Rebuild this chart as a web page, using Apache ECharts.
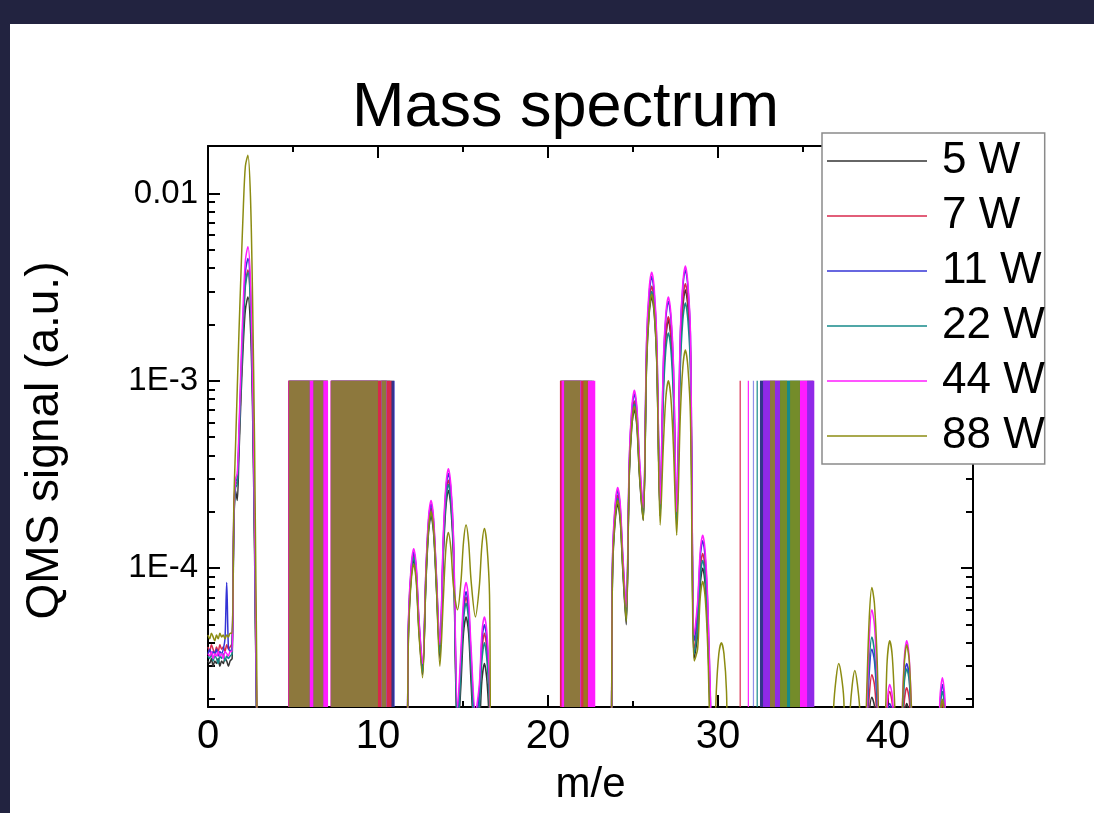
<!DOCTYPE html>
<html>
<head>
<meta charset="utf-8">
<script src="https://cdn.jsdelivr.net/npm/echarts@6/dist/echarts.min.js"></script>
<style>
  html, body { margin: 0; padding: 0; width: 1094px; height: 813px; background: #222340; overflow: hidden; }
  #chart { position: absolute; left: 10px; top: 24px; width: 1084px; height: 789px; background: #fff; }
</style>
</head>
<body>
<div id="chart"></div>
<script>
// Reading below the detection floor of the QMS
const U = 5e-6;

// m/e sample positions
const mz = [
  0, 0.1, 0.2, 0.3, 0.4, 0.5, 0.6, 0.7, 0.8, 0.9, 1.0, 1.1, 1.2, 1.3, 1.42, 1.52, 1.62, 1.72, 1.82, 1.95, 2.08, 2.2, 2.35, 2.5, 2.62, 2.74, 2.86, 3.0,
  11.55, 11.8, 11.95, 12.1, 12.25, 12.4, 12.62, 12.82, 12.97, 13.12, 13.27, 13.42, 13.64, 13.84, 13.99, 14.14, 14.29, 14.44, 14.68, 14.88, 15.03, 15.18, 15.33, 15.48, 15.73, 15.96, 16.11, 16.26, 16.41, 16.56, 16.72,
  23.6, 23.8, 23.95, 24.1, 24.25, 24.4, 24.6, 24.78, 24.93, 25.08, 25.23, 25.38, 25.6, 25.8, 25.95, 26.1, 26.25, 26.4, 26.6, 26.78, 26.93, 27.08, 27.23, 27.38, 27.57, 27.78, 27.93, 28.08, 28.23, 28.38, 28.6, 28.8, 28.95, 29.1, 29.25, 29.4, 29.58, 29.75, 29.9, 30.05, 30.2, 30.35, 30.5, 30.68,
  36.6, 36.8, 36.95, 37.1, 37.25, 37.4, 37.58, 37.75, 37.9, 38.05, 38.2, 38.35, 38.55, 38.75, 38.9, 39.05, 39.2, 39.35, 39.55, 39.8, 39.95, 40.1, 40.25, 40.4, 40.6, 40.8, 40.95, 41.1, 41.25, 41.4, 41.6, 42.9, 43.05, 43.2, 43.35, 43.5, 45
];

// QMS signal (a.u.) per discharge power, one value per m/e position
const w5 = [
  3.2e-5, 3.1e-5, 3.3e-5, 3.0e-5, 3.2e-5, 3.1e-5, 3.3e-5, 3.0e-5, 3.2e-5, 3.1e-5, 3.3e-5, 3.2e-5, 3.0e-5, 3.2e-5,
  3.3e-5, 1.6e-4, 2.6e-4, 2.3e-4, 4.0e-4, 8.5e-4, 1.6e-3, 2.4e-3, 2.8e-3, 1.9e-3, 7.0e-4, 1.2e-4, 1.5e-5, U,
  U, 4.8e-5, 8.9e-5, 1.1e-4, 8.9e-5, 4.8e-5, 2.7e-5, 8.4e-5, 1.54e-4, 1.9e-4, 1.54e-4, 8.4e-5, 3.3e-5, 1.14e-4, 2.1e-4, 2.6e-4, 2.1e-4, 1.14e-4, 1.2e-5, 2.4e-5, 4.5e-5, 5.5e-5, 4.5e-5, 2.4e-5, 1.0e-5, 1.4e-5, 2.5e-5, 3.1e-5, 2.5e-5, 1.4e-5, U,
  U, 9.7e-5, 1.78e-4, 2.2e-4, 1.78e-4, 9.7e-5, 5.0e-5, 3.1e-4, 5.7e-4, 7.0e-4, 5.7e-4, 3.1e-4, 1.8e-4, 1.23e-3, 2.27e-3, 2.8e-3, 2.27e-3, 1.23e-3, 1.9e-4, 9.2e-4, 1.7e-3, 2.1e-3, 1.7e-3, 9.2e-4, 1.7e-4, 1.34e-3, 2.47e-3, 3.05e-3, 2.47e-3, 1.34e-3, 3.3e-5, 4.4e-5, 8.1e-5, 1.0e-4, 8.1e-5, 4.4e-5, 1.2e-5, U, U, U, U, U, U, U,
  U, U, U, U, U, U, U, U, U, U, U, U, U, 1.0e-5, 1.7e-5, 2.05e-5, 1.85e-5, 1.3e-5, 7e-6, U, 1.2e-5, 1.5e-5, 1.3e-5, U, U, 8e-6, 1.6e-5, 1.9e-5, 1.6e-5, 9e-6, U, U, 1.4e-5, 1.8e-5, 1.4e-5, U, U
];
const w7 = [
  3.8e-5, 3.6e-5, 3.9e-5, 3.7e-5, 3.5e-5, 3.8e-5, 3.6e-5, 3.9e-5, 3.7e-5, 3.8e-5, 3.6e-5, 3.9e-5, 3.7e-5, 3.8e-5,
  4.0e-5, 1.8e-4, 2.8e-4, 2.9e-4, 4.6e-4, 1.0e-3, 2.0e-3, 3.3e-3, 3.9e-3, 2.6e-3, 9.0e-4, 1.5e-4, 1.7e-5, U,
  U, 5.2e-5, 9.6e-5, 1.18e-4, 9.6e-5, 5.2e-5, 2.9e-5, 9.2e-5, 1.7e-4, 2.1e-4, 1.7e-4, 9.2e-5, 3.6e-5, 1.3e-4, 2.4e-4, 2.95e-4, 2.4e-4, 1.3e-4, 1.4e-5, 3.1e-5, 5.7e-5, 7.0e-5, 5.7e-5, 3.1e-5, 1.3e-5, 2.0e-5, 3.6e-5, 4.5e-5, 3.6e-5, 2.0e-5, U,
  U, 1.08e-4, 1.98e-4, 2.45e-4, 1.98e-4, 1.08e-4, 5.5e-5, 3.4e-4, 6.3e-4, 7.8e-4, 6.3e-4, 3.4e-4, 1.9e-4, 1.41e-3, 2.6e-3, 3.2e-3, 2.6e-3, 1.41e-3, 2.0e-4, 9.7e-4, 1.78e-3, 2.2e-3, 1.78e-3, 9.7e-4, 1.8e-4, 1.45e-3, 2.67e-3, 3.3e-3, 2.67e-3, 1.45e-3, 3.7e-5, 5.3e-5, 9.7e-5, 1.2e-4, 9.7e-5, 5.3e-5, 1.4e-5, U, U, U, U, U, U, U,
  U, U, U, U, U, U, U, U, U, U, U, U, U, 1.2e-5, 2.1e-5, 2.7e-5, 2.4e-5, 1.6e-5, 8e-6, 8e-6, 1.7e-5, 2.2e-5, 1.9e-5, 1.1e-5, U, 9e-6, 1.9e-5, 2.3e-5, 2.0e-5, 1.1e-5, U, U, 1.5e-5, 1.9e-5, 1.5e-5, U, U
];
const w11 = [
  3.5e-5, 3.7e-5, 3.4e-5, 3.6e-5, 3.5e-5, 3.7e-5, 3.4e-5, 3.6e-5, 3.5e-5, 3.7e-5, 4.2e-5, 8.4e-5, 3.8e-5, 3.6e-5,
  3.8e-5, 1.9e-4, 2.9e-4, 3.0e-4, 5.0e-4, 1.15e-3, 2.3e-3, 3.8e-3, 4.5e-3, 3.0e-3, 1.0e-3, 1.7e-4, 1.9e-5, U,
  U, 5.4e-5, 9.9e-5, 1.22e-4, 9.9e-5, 5.4e-5, 3.0e-5, 9.7e-5, 1.78e-4, 2.2e-4, 1.78e-4, 9.7e-5, 3.8e-5, 1.4e-4, 2.6e-4, 3.2e-4, 2.6e-4, 1.4e-4, 1.6e-5, 3.3e-5, 6.1e-5, 7.5e-5, 6.1e-5, 3.3e-5, 1.5e-5, 2.2e-5, 4.1e-5, 5.0e-5, 4.1e-5, 2.2e-5, U,
  U, 1.14e-4, 2.1e-4, 2.6e-4, 2.1e-4, 1.14e-4, 5.8e-5, 3.7e-4, 6.9e-4, 8.5e-4, 6.9e-4, 3.7e-4, 2.0e-4, 1.58e-3, 2.9e-3, 3.6e-3, 2.9e-3, 1.58e-3, 2.1e-4, 1.17e-3, 2.15e-3, 2.65e-3, 2.15e-3, 1.17e-3, 1.9e-4, 1.72e-3, 3.16e-3, 3.9e-3, 3.16e-3, 1.72e-3, 4.1e-5, 6.2e-5, 1.13e-4, 1.4e-4, 1.13e-4, 6.2e-5, 1.6e-5, U, U, U, U, U, U, U,
  U, U, U, U, U, U, U, U, U, U, U, U, U, 1.4e-5, 2.8e-5, 3.7e-5, 3.2e-5, 2.0e-5, 9e-6, 7e-6, 1.5e-5, 1.9e-5, 1.7e-5, 9e-6, U, 1.2e-5, 2.6e-5, 3.1e-5, 2.6e-5, 1.4e-5, U, U, 1.8e-5, 2.4e-5, 1.8e-5, U, U
];
const w22 = [
  3.4e-5, 3.3e-5, 3.5e-5, 3.2e-5, 3.4e-5, 3.3e-5, 3.1e-5, 3.4e-5, 3.3e-5, 3.5e-5, 3.2e-5, 3.4e-5, 3.3e-5, 3.4e-5,
  3.5e-5, 1.7e-4, 2.7e-4, 2.8e-4, 4.5e-4, 1.0e-3, 2.0e-3, 3.2e-3, 3.8e-3, 2.5e-3, 8.5e-4, 1.4e-4, 1.6e-5, U,
  U, 5.0e-5, 9.2e-5, 1.14e-4, 9.2e-5, 5.0e-5, 2.8e-5, 8.8e-5, 1.62e-4, 2.0e-4, 1.62e-4, 8.8e-5, 3.5e-5, 1.23e-4, 2.27e-4, 2.8e-4, 2.27e-4, 1.23e-4, 1.3e-5, 2.9e-5, 5.3e-5, 6.5e-5, 5.3e-5, 2.9e-5, 1.2e-5, 1.8e-5, 3.2e-5, 4.0e-5, 3.2e-5, 1.8e-5, U,
  U, 1.03e-4, 1.9e-4, 2.35e-4, 1.9e-4, 1.03e-4, 5.3e-5, 3.3e-4, 6.1e-4, 7.5e-4, 6.1e-4, 3.3e-4, 1.85e-4, 1.32e-3, 2.43e-3, 3.0e-3, 2.43e-3, 1.32e-3, 1.9e-4, 7.9e-4, 1.46e-3, 1.8e-3, 1.46e-3, 7.9e-4, 1.75e-4, 1.14e-3, 2.1e-3, 2.6e-3, 2.1e-3, 1.14e-3, 3.5e-5, 4.8e-5, 8.9e-5, 1.1e-4, 8.9e-5, 4.8e-5, 1.3e-5, U, U, U, U, U, U, U,
  U, U, U, U, U, U, U, U, U, U, U, U, U, 1.5e-5, 3.2e-5, 4.3e-5, 3.6e-5, 2.2e-5, 9e-6, 7e-6, 1.4e-5, 1.8e-5, 1.6e-5, 9e-6, U, 1.1e-5, 2.4e-5, 2.9e-5, 2.5e-5, 1.3e-5, U, U, 1.7e-5, 2.2e-5, 1.7e-5, U, U
];
const w44 = [
  3.5e-5, 3.4e-5, 3.6e-5, 3.3e-5, 3.5e-5, 3.4e-5, 3.6e-5, 3.4e-5, 3.5e-5, 3.3e-5, 3.6e-5, 3.5e-5, 3.4e-5, 3.6e-5,
  3.6e-5, 2.0e-4, 3.0e-4, 3.2e-4, 5.5e-4, 1.3e-3, 2.7e-3, 4.4e-3, 5.2e-3, 3.4e-3, 1.1e-3, 1.9e-4, 2.0e-5, U,
  U, 5.6e-5, 1.03e-4, 1.27e-4, 1.03e-4, 5.6e-5, 3.1e-5, 1.0e-4, 1.86e-4, 2.3e-4, 1.86e-4, 1.0e-4, 3.9e-5, 1.5e-4, 2.75e-4, 3.4e-4, 2.75e-4, 1.5e-4, 1.8e-5, 3.7e-5, 6.8e-5, 8.4e-5, 6.8e-5, 3.7e-5, 1.7e-5, 2.4e-5, 4.5e-5, 5.5e-5, 4.5e-5, 2.4e-5, U,
  U, 1.19e-4, 2.2e-4, 2.7e-4, 2.2e-4, 1.19e-4, 6.2e-5, 3.9e-4, 7.2e-4, 8.9e-4, 7.2e-4, 3.9e-4, 2.1e-4, 1.67e-3, 3.1e-3, 3.8e-3, 3.1e-3, 1.67e-3, 2.2e-4, 1.23e-3, 2.27e-3, 2.8e-3, 2.27e-3, 1.23e-3, 2.0e-4, 1.8e-3, 3.3e-3, 4.1e-3, 3.3e-3, 1.8e-3, 4.4e-5, 6.6e-5, 1.22e-4, 1.5e-4, 1.22e-4, 6.6e-5, 1.7e-5, U, U, U, U, U, U, U,
  U, U, U, U, U, U, U, U, U, U, U, U, U, 1.7e-5, 4.2e-5, 6.0e-5, 5.0e-5, 2.8e-5, 1.0e-5, 9e-6, 1.9e-5, 2.4e-5, 2.1e-5, 1.2e-5, U, 1.4e-5, 3.2e-5, 4.1e-5, 3.3e-5, 1.6e-5, U, U, 2.0e-5, 2.6e-5, 2.0e-5, U, U
];
const w88 = [
  4.4e-5, 4.2e-5, 4.5e-5, 4.3e-5, 4.1e-5, 4.4e-5, 4.2e-5, 4.5e-5, 4.3e-5, 4.4e-5, 4.2e-5, 4.4e-5, 4.3e-5, 4.5e-5,
  4.5e-5, 2.2e-4, 4.5e-4, 9.0e-4, 1.8e-3, 4.0e-3, 8.5e-3, 1.4e-2, 1.6e-2, 9.5e-3, 2.8e-3, 4.5e-4, 3.5e-5, U,
  U, 4.6e-5, 8.5e-5, 1.05e-4, 8.5e-5, 4.6e-5, 2.6e-5, 8.8e-5, 1.62e-4, 2.0e-4, 1.62e-4, 8.8e-5, 3.0e-5, 6.8e-5, 1.26e-4, 1.55e-4, 1.26e-4, 8.0e-5, 6.0e-5, 8.5e-5, 1.38e-4, 1.7e-4, 1.38e-4, 8.5e-5, 5.5e-5, 8.0e-5, 1.32e-4, 1.63e-4, 1.32e-4, 7.2e-5, U,
  U, 1.01e-4, 1.86e-4, 2.3e-4, 1.86e-4, 1.01e-4, 5.2e-5, 3.2e-4, 5.9e-4, 7.3e-4, 5.9e-4, 3.2e-4, 1.8e-4, 1.28e-3, 2.35e-3, 2.9e-3, 2.35e-3, 1.28e-3, 1.7e-4, 4.4e-4, 8.1e-4, 1.0e-3, 8.1e-4, 4.4e-4, 1.5e-4, 6.4e-4, 1.18e-3, 1.46e-3, 1.18e-3, 6.4e-4, 3.2e-5, 3.7e-5, 6.9e-5, 8.5e-5, 6.9e-5, 3.7e-5, 1.0e-5, 9e-6, 2.2e-5, 3.5e-5, 4.0e-5, 3.5e-5, 2.2e-5, U,
  U, 1.8e-5, 2.6e-5, 3.1e-5, 2.7e-5, 2.0e-5, U, 1.6e-5, 2.4e-5, 2.85e-5, 2.4e-5, 1.7e-5, U, 2.2e-5, 5.5e-5, 7.9e-5, 6.5e-5, 3.5e-5, 1.2e-5, 1.4e-5, 3.2e-5, 4.1e-5, 3.4e-5, 1.8e-5, U, 1.4e-5, 3.0e-5, 3.9e-5, 3.2e-5, 1.6e-5, U, U, 1.5e-5, 2.0e-5, 1.5e-5, U, U
];

// Saturated readings: the detector clips at this level
const OVERFLOW = 1e-3;
// m/e ranges [from, to] where each trace sits at the overflow level
const over5  = [[4.72, 7.06], [7.22, 10.95], [20.72, 22.7], [32.47, 35.6]];
const over7  = [[4.72, 7.06], [7.22, 10.8], [20.7, 22.4], [31.27, 31.34]];
const over11 = [[4.76, 5.98], [6.2, 6.78], [7.24, 10.0], [10.2, 10.5], [10.8, 11.0], [20.95, 21.9], [32.05, 32.12], [32.47, 33.65], [35.24, 35.66]];
const over22 = [[4.8, 7.0], [7.3, 10.7], [20.75, 22.6], [32.27, 32.34], [33.65, 34.82]];
const over44 = [[4.74, 7.06], [7.22, 9.98], [10.18, 10.52], [20.8, 21.95], [22.35, 22.78], [31.75, 31.82], [32.65, 33.65], [34.82, 35.66]];
const over88 = [[4.76, 5.98], [6.2, 6.78], [7.24, 10.0], [10.2, 10.5], [20.95, 21.9], [22.08, 22.33], [33.06, 33.35], [33.65, 34.06], [34.24, 34.82]];

const powers = ['5 W', '7 W', '11 W', '22 W', '44 W', '88 W'];
const traces = [w5, w7, w11, w22, w44, w88];
const overflowRanges = [over5, over7, over11, over22, over44, over88];

// Axis ticks and labels
const xMajor = [0, 10, 20, 30, 40];
const xMinor = [5, 15, 25, 35, 45];
const yTickValues = [1e-4, 1e-3, 1e-2];
const yTickLabels = ['1E-4', '1E-3', '0.01'];

// Styling
const colors = ['#333333', '#d8284c', '#3434d6', '#168a8a', '#ff1cff', '#8c8c12'];
const blockOpacity = [1, 1, 0.55, 1, 1, 0.8];
const blockDrawOrder = [0, 3, 1, 4, 2, 5];
const FONT = "'Liberation Sans', Arial, Helvetica, sans-serif";
const Y_MIN = -4.7405;   // log10 of the lower plot limit
const Y_MAX = -1.7469;   // log10 of the upper plot limit

const lg = v => Math.log10(v);
const yMajor = yTickValues.map(lg);
const yMinor = [];
for (let e = -5; e <= -2; e++) {
  for (let k = 2; k <= 9; k++) {
    const v = lg(k * Math.pow(10, e));
    if (v > Y_MIN && v < Y_MAX) yMinor.push(v);
  }
}

const black = { color: '#000', width: 2 };
function xAxisDef(position, ticks, len, withLine, withLabels) {
  const ax = {
    type: 'value', position, min: 0, max: 45,
    axisLine: { show: withLine, onZero: false, lineStyle: black },
    axisTick: { show: true, inside: true, length: len, customValues: ticks, lineStyle: black },
    axisLabel: { show: false },
    splitLine: { show: false }
  };
  if (withLabels) {
    ax.axisLabel = { show: true, customValues: ticks, fontSize: 40, color: '#000', margin: 10, fontFamily: FONT };
    ax.name = 'm/e';
    ax.nameLocation = 'middle';
    ax.nameGap = 57;
    ax.nameTextStyle = { fontSize: 42, color: '#000', fontFamily: FONT };
  }
  return ax;
}
function yAxisDef(position, ticks, len, withLine, withLabels) {
  const ax = {
    type: 'value', position, min: Y_MIN, max: Y_MAX,
    axisLine: { show: withLine, onZero: false, lineStyle: black },
    axisTick: { show: true, inside: true, length: len, customValues: ticks, lineStyle: black },
    axisLabel: { show: false },
    splitLine: { show: false }
  };
  if (withLabels) {
    ax.axisLabel = {
      show: true, customValues: ticks, fontSize: 33, color: '#000', margin: 10, fontFamily: FONT,
      formatter: v => {
        const i = yMajor.findIndex(t => Math.abs(t - v) < 1e-6);
        return i >= 0 ? yTickLabels[i] : '';
      }
    };
    ax.name = 'QMS signal (a.u.)';
    ax.nameLocation = 'middle';
    ax.nameGap = 140;
    ax.nameTextStyle = { fontSize: 46, color: '#000', fontFamily: FONT, padding: [0, 28, 0, 0] };
  }
  return ax;
}

const series = [];
powers.forEach((name, i) => {
  series.push({
    name, type: 'line', symbol: 'none', smooth: 0.3,
    xAxisIndex: 0, yAxisIndex: 0,
    lineStyle: { width: 1.5, color: colors[i] },
    itemStyle: { color: colors[i] },
    data: mz.map((x, j) => [x, lg(traces[i][j])]),
    z: 3
  });
});
blockDrawOrder.forEach(i => {
  series.push({
    name: powers[i], type: 'custom', xAxisIndex: 0, yAxisIndex: 0, clip: true, z: 2,
    data: overflowRanges[i].map(r => [r[0], r[1], lg(OVERFLOW)]),
    encode: { x: [0, 1], y: 2 },
    renderItem: (params, api) => {
      const p0 = api.coord([api.value(0), api.value(2)]);
      const p1 = api.coord([api.value(1), Y_MIN]);
      return {
        type: 'rect',
        shape: { x: p0[0], y: p0[1], width: p1[0] - p0[0], height: p1[1] - p0[1] },
        style: { fill: colors[i], opacity: blockOpacity[i] }
      };
    }
  });
});

const chart = echarts.init(document.getElementById('chart'), null, { renderer: 'canvas' });
chart.setOption({
  animation: false,
  backgroundColor: '#ffffff',
  title: {
    text: 'Mass spectrum', left: 342, top: 53, padding: 0,
    textStyle: { fontSize: 63, fontWeight: 'normal', color: '#000', fontFamily: FONT }
  },
  legend: {
    data: powers, orient: 'vertical', left: 812, top: 109,
    icon: 'rect', padding: [6, 0, 6, 5], itemGap: 11, itemWidth: 100, itemHeight: 1.5,
    backgroundColor: '#ffffff', borderColor: '#8a8a8a', borderWidth: 1.5,
    textStyle: { fontSize: 44, lineHeight: 44, color: '#000', fontFamily: FONT, padding: [0, 0, 0, 10] }
  },
  grid: { left: 198, top: 122, right: 121, bottom: 106, containLabel: false },
  xAxis: [
    xAxisDef('bottom', xMajor, 12, true, true),
    xAxisDef('bottom', xMinor, 6, false, false),
    xAxisDef('top', xMajor, 12, true, false),
    xAxisDef('top', xMinor, 6, false, false)
  ],
  yAxis: [
    yAxisDef('left', yMajor, 12, true, true),
    yAxisDef('left', yMinor, 7, false, false),
    yAxisDef('right', yMajor, 12, true, false),
    yAxisDef('right', yMinor, 7, false, false)
  ],
  series
});
</script>
</body>
</html>
